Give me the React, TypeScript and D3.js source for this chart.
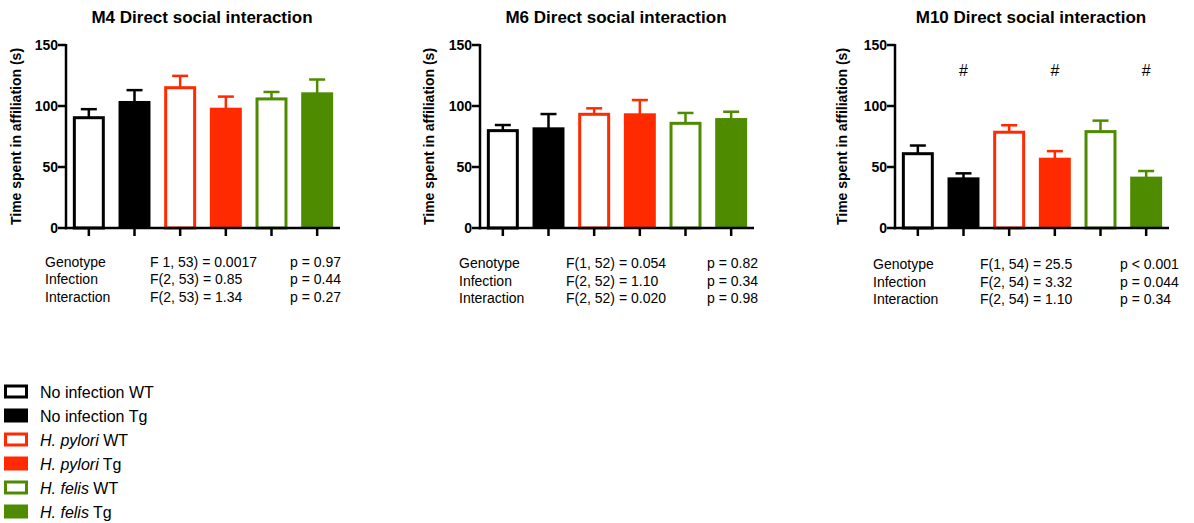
import React from "react";
import * as d3 from "d3";

// ---- Data ----
const groups = ["No infection WT", "No infection Tg", "H. pylori WT", "H. pylori Tg", "H. felis WT", "H. felis Tg"];
const groupItalic = ["", "", "H. pylori", "H. pylori", "H. felis", "H. felis"];
const groupRest = ["No infection WT", "No infection Tg", " WT", " Tg", " WT", " Tg"];
const groupColors = ["#000000", "#000000", "#FF2A00", "#FF2A00", "#4E8B00", "#4E8B00"];
const groupFilled = [false, true, false, true, false, true];

const panelTitles = ["M4 Direct social interaction", "M6 Direct social interaction", "M10 Direct social interaction"];
const m4Means = [90.4, 103.3, 115.0, 97.8, 105.8, 110.4];
const m4Errors = [7.0, 9.7, 9.7, 9.9, 5.7, 11.3];
const m6Means = [79.8, 81.7, 93.2, 93.2, 85.8, 89.3];
const m6Errors = [4.6, 11.7, 4.9, 11.7, 8.5, 6.0];
const m10Means = [60.9, 40.7, 78.5, 56.8, 79.0, 41.3];
const m10Errors = [6.7, 4.1, 5.7, 6.2, 9.0, 5.4];
const m10Hash = [false, true, false, true, false, true];
const noHash = [false, false, false, false, false, false];

const yTicks = [0, 50, 100, 150];
const hashLevel = 125;

const statLabels = ["Genotype", "Infection", "Interaction"];
const m4Stats = ["F 1, 53) = 0.0017", "F(2, 53) = 0.85", "F(2, 53) = 1.34"];
const m4P = ["p = 0.97", "p = 0.44", "p = 0.27"];
const m6Stats = ["F(1, 52) = 0.054", "F(2, 52) = 1.10", "F(2, 52) = 0.020"];
const m6P = ["p = 0.82", "p = 0.34", "p = 0.98"];
const m10Stats = ["F(1, 54) = 25.5", "F(2, 54) = 3.32", "F(2, 54) = 1.10"];
const m10P = ["p < 0.001", "p = 0.044", "p = 0.34"];

const FONT = "'Liberation Sans', Arial, Helvetica, sans-serif";

type PanelProps = {
  title: string;
  means: number[];
  errors: number[];
  hash: boolean[];
  stats: string[];
  ps: string[];
  x0: number;
  yLabelX: number;
  statX: number[];
  statY0: number;
};

function Panel({ title, means, errors, hash, stats, ps, x0, yLabelX, statX, statY0 }: PanelProps) {
  const plotW = 274;
  const top = 45;
  const bottom = 228;
  const y = d3.scaleLinear().domain([0, 150]).range([bottom, top]);
  const x = d3
    .scaleBand<number>()
    .domain(d3.range(groups.length))
    .range([x0, x0 + plotW])
    .paddingInner(0.3)
    .paddingOuter(0.15);
  const bw = x.bandwidth();
  const sw = 3;
  return (
    <g fontFamily={FONT}>
      <text x={x0 + plotW / 2 - 1} y={23} textAnchor="middle" fontWeight="bold" fontSize={17}>
        {title}
      </text>
      <text
        transform={`translate(${yLabelX},${(top + bottom) / 2}) rotate(-90)`}
        textAnchor="middle"
        fontWeight="bold"
        fontSize={14}
      >
        Time spent in affiliation (s)
      </text>
      {means.map((m, i) => {
        const cx = (x(i) as number) + bw / 2;
        const c = groupColors[i];
        const yTop = y(m);
        const yErr = y(m + errors[i]);
        return (
          <g key={i}>
            <line x1={cx} x2={cx} y1={yTop} y2={yErr} stroke={c} strokeWidth={2.5} />
            <line x1={cx - 8} x2={cx + 8} y1={yErr} y2={yErr} stroke={c} strokeWidth={2.5} />
            {groupFilled[i] ? (
              <rect x={x(i)} y={yTop - 1} width={bw} height={bottom - yTop + 1} fill={c} />
            ) : (
              <rect
                x={(x(i) as number) + sw / 2}
                y={yTop}
                width={bw - sw}
                height={bottom - yTop}
                fill="#fff"
                stroke={c}
                strokeWidth={sw}
              />
            )}
            <line x1={cx} x2={cx} y1={bottom} y2={bottom + 8} stroke="#000" strokeWidth={2.5} />
            {hash[i] && (
              <text x={cx} y={y(hashLevel)} textAnchor="middle" fontSize={16}>
                #
              </text>
            )}
          </g>
        );
      })}
      {/* axes */}
      <line x1={x0} x2={x0} y1={top - 1} y2={bottom + 1.25} stroke="#000" strokeWidth={2.5} />
      <line x1={x0 - 1.25} x2={x0 + plotW} y1={bottom} y2={bottom} stroke="#000" strokeWidth={2.5} />
      {yTicks.map((t) => (
        <g key={t}>
          <line x1={x0 - 8} x2={x0} y1={y(t)} y2={y(t)} stroke="#000" strokeWidth={2.5} />
          <text x={x0 - 8} y={y(t) + 5} textAnchor="end" fontWeight="bold" fontSize={14}>
            {t}
          </text>
        </g>
      ))}
      {statLabels.map((lab, i) => (
        <g key={lab} fontSize={14}>
          <text x={statX[0]} y={statY0 + i * 17.5}>{lab}</text>
          <text x={statX[1]} y={statY0 + i * 17.5}>{stats[i]}</text>
          <text x={statX[2]} y={statY0 + i * 17.5}>{ps[i]}</text>
        </g>
      ))}
    </g>
  );
}

export default function App() {
  const legendY = d3.scaleLinear().domain([0, 5]).range([391.5, 511.5]);
  return (
    <svg width={1194} height={523} style={{ position: "absolute", left: 0, top: 0, background: "#fff" }}>
      <rect width={1194} height={523} fill="#fff" />
      <Panel
        title={panelTitles[0]}
        means={m4Means}
        errors={m4Errors}
        hash={noHash}
        stats={m4Stats}
        ps={m4P}
        x0={66}
        yLabelX={20.5}
        statX={[45, 150, 290]}
        statY0={266.5}
      />
      <Panel
        title={panelTitles[1]}
        means={m6Means}
        errors={m6Errors}
        hash={noHash}
        stats={m6Stats}
        ps={m6P}
        x0={480}
        yLabelX={434}
        statX={[459, 566, 707]}
        statY0={268}
      />
      <Panel
        title={panelTitles[2]}
        means={m10Means}
        errors={m10Errors}
        hash={m10Hash}
        stats={m10Stats}
        ps={m10P}
        x0={895}
        yLabelX={847}
        statX={[873, 980, 1120]}
        statY0={269}
      />
      <g fontFamily={FONT} fontSize={16}>
        {groups.map((g, i) => {
          const cy = legendY(i);
          return (
            <g key={g}>
              {groupFilled[i] ? (
                <rect x={4} y={cy - 7} width={24} height={14} fill={groupColors[i]} />
              ) : (
                <rect x={5.5} y={cy - 5.5} width={21} height={11} fill="#fff" stroke={groupColors[i]} strokeWidth={3} />
              )}
              <text x={40} y={cy + 6}>
                {groupItalic[i] && <tspan fontStyle="italic">{groupItalic[i]}</tspan>}
                <tspan>{groupRest[i]}</tspan>
              </text>
            </g>
          );
        })}
      </g>
    </svg>
  );
}
